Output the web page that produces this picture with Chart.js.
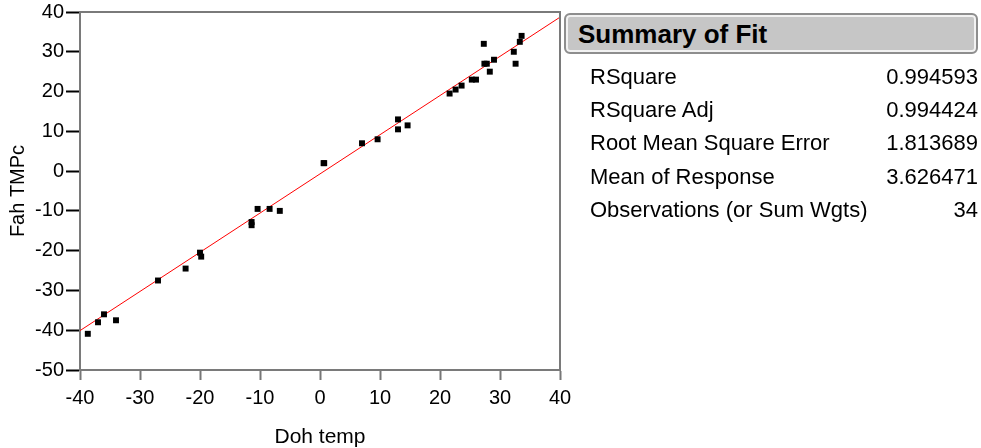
<!DOCTYPE html>
<html>
<head>
<meta charset="utf-8">
<script src="https://cdn.jsdelivr.net/npm/chart.js@4"></script>
<style>
  html, body { margin: 0; padding: 0; background: #fff; }
  #wrap { position: relative; width: 981px; height: 448px; overflow: hidden; font-family: "Liberation Sans", Arial, sans-serif; }
  #c { position: absolute; left: 0; top: 0; }
  #hdr { position: absolute; left: 564px; top: 13px; width: 410px; height: 37px;
         border: 2px solid #8e8e8e; border-radius: 6px; background: #c6c6c6;
         box-shadow: inset 0 0 0 2px #f2f2f2; }
  #hdr span { position: absolute; left: 12px; top: 4px; font-weight: bold; font-size: 26px; color: #000; }
  table { position: absolute; left: 590px; top: 60px; width: 388px; border-collapse: collapse; font-size: 22px; color: #000; }
  td { padding: 0; height: 33.3px; white-space: nowrap; }
  td.v { text-align: right; }
</style>
</head>
<body>
<div id="wrap">
  <canvas id="c" width="981" height="448"></canvas>
  <div id="hdr"><span id="hdrText"></span></div>
  <table id="tbl"></table>
</div>
<script>
// ---- data ----
const xTitle = 'Doh temp';
const yTitle = 'Fah TMPc';
const dohTemp = [-38.7, -37.0, -36.0, -34.0, -27.0, -22.4, -20.0, -19.8, -11.4, -11.4,
                 -10.4, -8.4, -6.7, 0.7, 0.6, 7.0, 9.6, 13.0, 13.0, 14.6,
                 21.6, 22.6, 23.6, 25.3, 26.0, 27.3, 27.4, 27.8, 28.3, 29.0,
                 32.3, 32.6, 33.3, 33.6];
const fahTMPc = [-40.9, -38.0, -36.0, -37.5, -27.5, -24.5, -20.5, -21.5, -12.8, -13.6,
                 -9.5, -9.5, -10.0, 2.0, 2.0, 7.0, 8.0, 13.0, 10.5, 11.5,
                 19.5, 20.5, 21.5, 23.0, 23.0, 32.0, 27.0, 27.0, 25.0, 28.0,
                 30.0, 27.0, 32.5, 34.0];
const fitIntercept = -0.7;
const fitSlope = 0.985;
const xRange = [-40, 40];
const yRange = [-50, 40];
const summaryTitle = 'Summary of Fit';
const summaryLabels = ['RSquare', 'RSquare Adj', 'Root Mean Square Error', 'Mean of Response', 'Observations (or Sum Wgts)'];
const summaryValues = ['0.994593', '0.994424', '1.813689', '3.626471', '34'];

// ---- summary panel ----
document.getElementById('hdrText').textContent = summaryTitle;
const tbl = document.getElementById('tbl');
summaryLabels.forEach((l, i) => {
  const tr = document.createElement('tr');
  const a = document.createElement('td'); a.textContent = l;
  const b = document.createElement('td'); b.className = 'v'; b.textContent = summaryValues[i];
  tr.appendChild(a); tr.appendChild(b); tbl.appendChild(tr);
});

// ---- chart ----
const FONT = '"Liberation Sans", Arial, sans-serif';
const points = dohTemp.map((x, i) => ({x: x, y: fahTMPc[i]}));
const fitLine = xRange.map(x => ({x: x, y: fitIntercept + fitSlope * x}));

const frame = {
  id: 'frame',
  afterDatasetsDraw(chart) {
    const a = chart.chartArea, ctx = chart.ctx;
    ctx.save();
    ctx.strokeStyle = '#7a7a7a';
    ctx.lineWidth = 2;
    ctx.beginPath();
    ctx.moveTo(a.left, a.top); ctx.lineTo(a.right, a.top); ctx.lineTo(a.right, a.bottom);
    ctx.stroke();
    ctx.restore();
  }
};

new Chart(document.getElementById('c'), {
  data: {
    datasets: [
      { type: 'line', data: fitLine, borderColor: '#ff0000', borderWidth: 1, pointRadius: 0, fill: false, order: 2 },
      { type: 'scatter', data: points, pointStyle: 'rect', pointRadius: 4.2, backgroundColor: '#000', borderWidth: 0, order: 1 }
    ]
  },
  options: {
    responsive: false,
    animation: false,
    events: [],
    layout: { padding: { left: 0, top: 10, right: 421, bottom: 0 } },
    plugins: { legend: { display: false }, tooltip: { enabled: false } },
    scales: {
      x: {
        type: 'linear', min: xRange[0], max: xRange[1],
        ticks: { stepSize: 10, color: '#000', padding: 8, font: { family: FONT, size: 20, lineHeight: 1 } },
        grid: { drawOnChartArea: false, tickLength: 10, tickColor: '#777', tickWidth: 2 },
        border: { display: true, color: '#7a7a7a', width: 2 },
        title: { display: true, text: xTitle, color: '#000', font: { family: FONT, size: 21, lineHeight: 1.0 }, padding: { top: 0, bottom: 0 } },
        afterFit(s) { s.height = 78; }
      },
      y: {
        type: 'linear', min: yRange[0], max: yRange[1],
        ticks: { stepSize: 10, color: '#000', padding: 2, font: { family: FONT, size: 20, lineHeight: 1 } },
        grid: { drawOnChartArea: false, tickLength: 14, tickColor: '#000', tickWidth: 2 },
        border: { display: true, color: '#7a7a7a', width: 2 },
        title: { display: true, text: yTitle, color: '#000', font: { family: FONT, size: 20, lineHeight: 1.2 }, padding: { top: 6, bottom: 0 } },
        afterFit(s) { s.width = 80; }
      }
    }
  },
  plugins: [frame]
});
</script>
</body>
</html>
